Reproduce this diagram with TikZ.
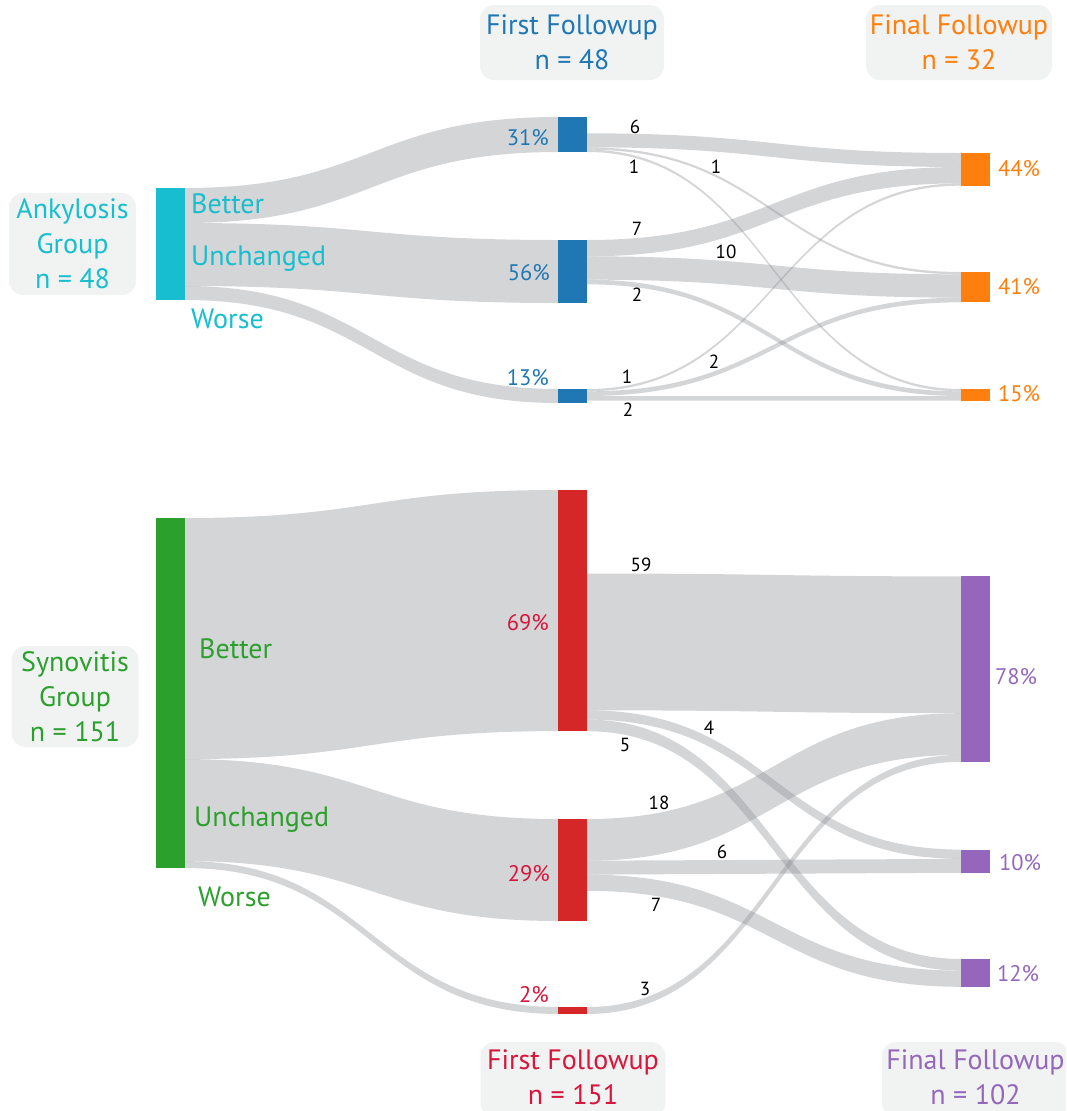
\documentclass[tikz,border=0pt]{standalone}
\usepackage{fontspec}
\setmainfont{PT Sans}
\usetikzlibrary{calc}
\pgfdeclarelayer{bg}
\pgfsetlayers{bg,main}
\definecolor{cyanC}{RGB}{23,190,207}
\definecolor{blueC}{RGB}{31,119,180}
\definecolor{orangeC}{RGB}{255,127,14}
\definecolor{greenC}{RGB}{44,160,44}
\definecolor{redC}{RGB}{214,39,40}
\definecolor{redT}{RGB}{214,22,60}
\definecolor{purpleC}{RGB}{148,103,189}
\definecolor{boxgray}{RGB}{241,243,242}
\definecolor{flowgray}{RGB}{139,141,146}
\tikzset{
  bar/.style={rectangle, anchor=north west, inner sep=0pt, outer sep=0pt, minimum width=29pt, draw=none},
  flow/.style={fill=flowgray, fill opacity=0.37},
  hdr/.style={rectangle, rounded corners=14pt, fill=boxgray, align=center, inner sep=0pt,
              font=\fontsize{28}{35}\selectfont},
  hdrtext/.style={align=center, inner sep=0pt, font=\fontsize{28}{35}\selectfont},
  lab/.style={anchor=base west, inner sep=0pt, font=\fontsize{28}{32}\selectfont},
  pctl/.style={anchor=base east, inner sep=0pt, font=\fontsize{22.5}{26}\selectfont},
  pctr/.style={anchor=base west, inner sep=0pt, font=\fontsize{22.5}{26}\selectfont},
  num/.style={anchor=base, inner sep=0pt, text=black, font=\fontsize{19}{21}\selectfont},
}
\newcommand\flowband[5]{%
  \fill[flow] let \p1=($(#1.north east)+(0,#2)$), \p2=($(#4.north west)+(0,#5)$),
    \p3=($(\p1)!0.5!(\p2)$) in
    (\x1,\y1) .. controls (\x3,\y1) and (\x3,\y2) .. (\x2,\y2)
    -- (\x2,\y2-#3pt) .. controls (\x3,\y2-#3pt) and (\x3,\y1-#3pt) .. (\x1,\y1-#3pt) -- cycle;}
\begin{document}
\begin{tikzpicture}[x=1pt,y=-1pt]
\useasboundingbox (0,0) rectangle (1066,1111);
% ---------- boxes ----------
\node[hdr, text=blueC, minimum width=184pt, minimum height=75pt] (h1) at (572,42.5) {First Followup\\n = 48};
\node[hdr, text=orangeC, minimum width=186pt, minimum height=75pt] (h2) at (959,42.5) {Final Followup\\n = 32};
\node[hdr, text=cyanC, minimum width=127pt, minimum height=102pt] (g1) at (72.5,244) {Ankylosis\\Group\\n = 48};
\node[hdr, text=greenC, minimum width=127pt, minimum height=101pt] (g2) at (75,696.5) {Synovitis\\Group\\n = 151};
\begin{scope}
\clip (0,0) rectangle (1066,1111);
\node[hdr, minimum width=185pt, minimum height=75pt] (h3) at (573,1079.5) {};
\node[hdr, minimum width=187pt, minimum height=75pt] (h4) at (975.5,1079.5) {};
\end{scope}
\node[hdrtext, text=redT] (t3) at (573,1077) {First Followup\\n = 151};
\node[hdrtext, text=purpleC] (t4) at (975.5,1077) {Final Followup\\n = 102};
% ---------- bars ----------
\node[bar, fill=cyanC, minimum height=112pt] (a0) at (156,188) {};
\node[bar, fill=blueC, minimum height=35pt] (b1) at (558,117) {};
\node[bar, fill=blueC, minimum height=63pt] (b2) at (558,240) {};
\node[bar, fill=blueC, minimum height=14pt] (b3) at (558,389) {};
\node[bar, fill=orangeC, minimum height=32.67pt] (o1) at (961,153) {};
\node[bar, fill=orangeC, minimum height=30.33pt] (o2) at (961,272) {};
\node[bar, fill=orangeC, minimum height=11.67pt] (o3) at (961,389) {};
\node[bar, fill=greenC, minimum height=350pt] (s0) at (156,518) {};
\node[bar, fill=redC, minimum height=241.1pt] (r1) at (558,490) {};
\node[bar, fill=redC, minimum height=102pt] (r2) at (558,819) {};
\node[bar, fill=redC, minimum height=7pt] (r3) at (558,1007) {};
\node[bar, fill=purpleC, minimum height=185.4pt] (p1) at (961,576.4) {};
\node[bar, fill=purpleC, minimum height=23.2pt] (p2) at (961,849.6) {};
\node[bar, fill=purpleC, minimum height=27.8pt] (p3) at (961,959) {};
% ---------- flows ----------
\begin{pgfonlayer}{bg}
\flowband{a0}{0}{35}{b1}{0}
\flowband{a0}{35}{63}{b2}{0}
\flowband{a0}{98}{14}{b3}{0}
\flowband{b1}{16.33}{14}{o1}{0}
\flowband{b1}{30.33}{2.33}{o2}{0}
\flowband{b1}{32.67}{2.33}{o3}{0}
\flowband{b2}{0}{16.33}{o1}{14}
\flowband{b2}{16.33}{23.33}{o2}{2.33}
\flowband{b2}{39.67}{4.67}{o3}{2.33}
\flowband{b3}{0}{2.33}{o1}{30.33}
\flowband{b3}{2.33}{4.67}{o2}{25.67}
\flowband{b3}{7}{4.67}{o3}{7}
\flowband{s0}{0}{241.1}{r1}{0}
\flowband{s0}{241.1}{102}{r2}{0}
\flowband{s0}{343.1}{6.95}{r3}{0}
\flowband{r1}{83.5}{136.8}{p1}{0}
\flowband{r1}{220.3}{9.27}{p2}{0}
\flowband{r1}{229.6}{11.59}{p3}{0}
\flowband{r2}{0}{41.72}{p1}{136.8}
\flowband{r2}{41.72}{13.9}{p2}{9.27}
\flowband{r2}{55.62}{16.2}{p3}{11.59}
\flowband{r3}{0}{6.95}{p1}{178.5}
\end{pgfonlayer}
% ---------- category labels ----------
\node[lab, text=cyanC] (lb1) at (191,213) {Better};
\node[lab, text=cyanC] (lu1) at (191,265) {Unchanged};
\node[lab, text=cyanC] (lw1) at (191,328) {Worse};
\node[lab, text=greenC] (lb2) at (199,658) {Better};
\node[lab, text=greenC] (lu2) at (194,826) {Unchanged};
\node[lab, text=greenC] (lw2) at (198,906.5) {Worse};
% ---------- percentages ----------
\node[pctl, text=blueC] (q1) at (549,145) {31\%};
\node[pctl, text=blueC] (q2) at (550,280) {56\%};
\node[pctl, text=blueC] (q3) at (549,385) {13\%};
\node[pctr, text=orangeC] (q4) at (998,176.7) {44\%};
\node[pctr, text=orangeC] (q5) at (998,294) {41\%};
\node[pctr, text=orangeC] (q6) at (998,401.7) {15\%};
\node[pctl, text=redT] (q7) at (549,630.7) {69\%};
\node[pctl, text=redT] (q8) at (550,881.7) {29\%};
\node[pctl, text=redT] (q9) at (549,1002) {2\%};
\node[pctr, text=purpleC] (q10) at (995,684) {78\%};
\node[pctr, text=purpleC] (q11) at (999,870) {10\%};
\node[pctr, text=purpleC] (q12) at (997,981) {12\%};
% ---------- flow counts ----------
\node[num] (c1) at (635,133.5) {6};
\node[num] (c2) at (634,173.5) {1};
\node[num] (c3) at (716,173.5) {1};
\node[num] (c4) at (637,235.5) {7};
\node[num] (c5) at (726,258.5) {10};
\node[num] (c6) at (637,301.5) {2};
\node[num] (c7) at (627,383.5) {1};
\node[num] (c8) at (714,368.5) {2};
\node[num] (c9) at (628,416.5) {2};
\node[num] (c10) at (641,571) {59};
\node[num] (c11) at (709,734) {4};
\node[num] (c12) at (625,751) {5};
\node[num] (c13) at (659,809) {18};
\node[num] (c14) at (722,858) {6};
\node[num] (c15) at (656,911) {7};
\node[num] (c16) at (645,995) {3};
\end{tikzpicture}
\end{document}
